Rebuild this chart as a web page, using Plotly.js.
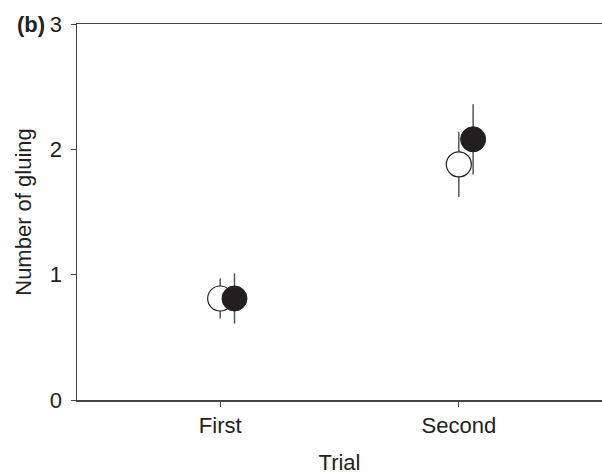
<!DOCTYPE html>
<html>
<head>
<meta charset="utf-8">
<script src="https://cdn.plot.ly/plotly-3.0.1.min.js"></script>
<style>html,body{margin:0;padding:0;background:#fff;}#chart{width:602px;height:475px;}</style>
</head>
<body>
<div id="chart"></div>
<script>
var categories = ["First", "Second"];
var catPos = [1, 2];
var openMeans = [0.81, 1.88];
var openErr = [0.16, 0.26];
var filledMeans = [0.81, 2.08];
var filledErr = [0.20, 0.28];
var yTicks = [0, 1, 2, 3];

var offset = 0.06;
var openX = catPos.map(function(p){ return p; });
var filledX = catPos.map(function(p){ return p + offset; });

var traces = [
  {
    x: openX, y: openMeans, type: 'scatter', mode: 'markers',
    marker: {size: 25, color: '#ffffff', line: {color: '#222222', width: 1.2}},
    error_y: {type: 'data', array: openErr, visible: true, color: '#555555', thickness: 1.5, width: 0},
    showlegend: false, hoverinfo: 'skip'
  },
  {
    x: filledX, y: filledMeans, type: 'scatter', mode: 'markers',
    marker: {size: 25, color: '#231f20', line: {color: '#231f20', width: 1}},
    error_y: {type: 'data', array: filledErr, visible: true, color: '#555555', thickness: 1.5, width: 0},
    showlegend: false, hoverinfo: 'skip'
  }
];

var layout = {
  width: 602, height: 475,
  margin: {l: 77, r: 0, t: 24, b: 75},
  paper_bgcolor: '#ffffff', plot_bgcolor: '#ffffff',
  font: {family: 'Liberation Sans, Arial, sans-serif', size: 22, color: '#222222'},
  xaxis: {
    range: [0.4, 2.6], tickvals: catPos, ticktext: categories,
    showgrid: false, zeroline: false, showline: true, mirror: true,
    linecolor: '#444444', linewidth: 1.5,
    ticks: 'outside', ticklen: 5, tickcolor: '#444444', tickwidth: 1,
    tickfont: {size: 22, color: '#222222'},
    title: {text: 'Trial', font: {size: 22, color: '#222222'}, standoff: 17}
  },
  yaxis: {
    range: [0, 3], tickvals: yTicks,
    showgrid: false, zeroline: false, showline: true,
    linecolor: '#444444', linewidth: 1.5,
    ticks: 'outside', ticklen: 5, tickcolor: '#444444', tickwidth: 1,
    ticklabelstandoff: 4,
    tickfont: {size: 22, color: '#222222'},
    title: {text: 'Number of gluing', font: {size: 22, color: '#222222'}, standoff: 12}
  },
  annotations: [
    {text: '<b>(b)</b>', xref: 'paper', yref: 'paper', x: -0.118, y: 1, xanchor: 'left', yanchor: 'middle',
     showarrow: false, font: {size: 22, color: '#222222'}}
  ]
};

Plotly.newPlot('chart', traces, layout, {displayModeBar: false, staticPlot: true});
</script>
</body>
</html>
